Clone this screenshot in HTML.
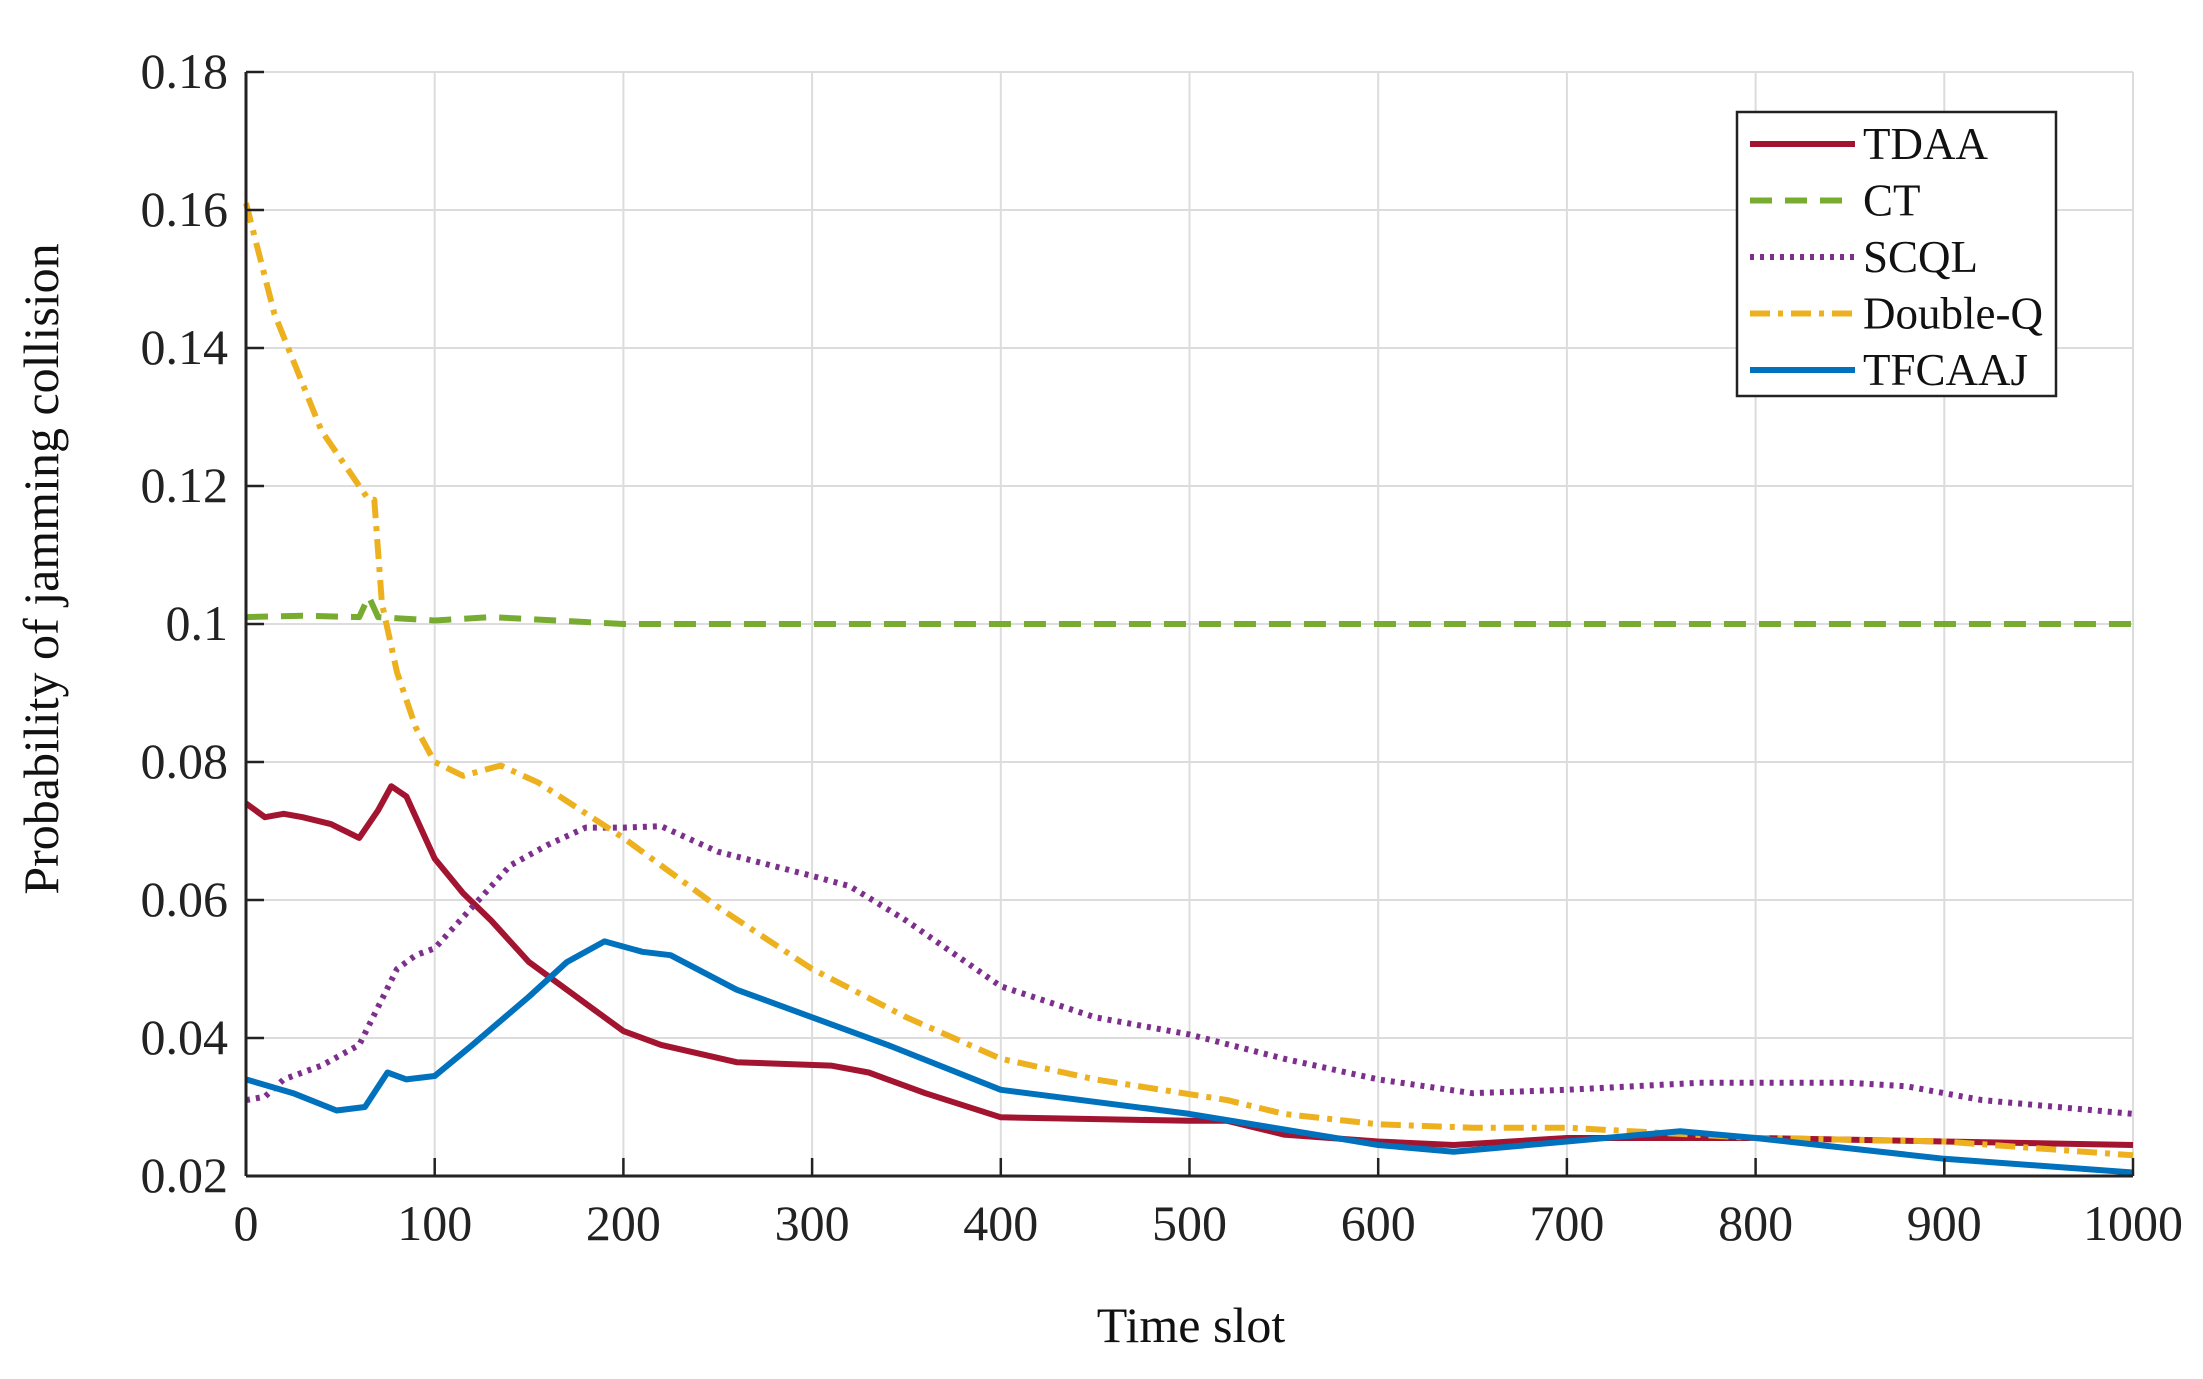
<!DOCTYPE html>
<html><head><meta charset="utf-8"><style>
html,body{margin:0;padding:0;background:#fff;}
svg{display:block;font-family:"Liberation Serif",serif;}
</style></head><body>
<svg id="chart" width="2203" height="1379" viewBox="0 0 2203 1379">
<g id="grid"></g>
<g id="series"></g>
<g id="axes"></g>
<text x="1191" y="1342" font-size="50" text-anchor="middle" fill="#111">Time slot</text>
<text transform="translate(58,569) rotate(-90)" font-size="50" text-anchor="middle" fill="#111">Probability of jamming collision</text>
<g id="legend"></g>
</svg>
<script>
const xTicks=[0,100,200,300,400,500,600,700,800,900,1000];
const yTicks=[0.02,0.04,0.06,0.08,0.1,0.12,0.14,0.16,0.18];
const yTickLabels=["0.02","0.04","0.06","0.08","0.1","0.12","0.14","0.16","0.18"];
const seriesNames=["TDAA","CT","SCQL","Double-Q","TFCAAJ"];
const tdaaX=[0,10,20,30,45,60,70,77,85,100,115,130,150,170,185,200,220,260,310,330,360,400,500,520,550,600,640,700,800,900,1000];
const tdaaY=[0.074,0.072,0.0725,0.072,0.071,0.069,0.073,0.0765,0.075,0.066,0.061,0.057,0.051,0.047,0.044,0.041,0.039,0.0365,0.036,0.035,0.032,0.0285,0.028,0.028,0.026,0.025,0.0245,0.0255,0.0255,0.025,0.0245];
const ctX=[0,30,60,65,70,100,130,200,300,500,700,1000];
const ctY=[0.101,0.1012,0.101,0.104,0.101,0.1005,0.101,0.1,0.1,0.1,0.1,0.1];
const scqlX=[0,10,20,40,60,80,90,100,120,140,160,180,200,220,250,300,320,350,400,450,500,550,600,650,700,770,850,880,920,1000];
const scqlY=[0.031,0.0315,0.034,0.036,0.039,0.05,0.052,0.053,0.059,0.065,0.068,0.0705,0.0705,0.0707,0.067,0.0635,0.062,0.057,0.0475,0.043,0.0405,0.037,0.034,0.032,0.0325,0.0335,0.0335,0.033,0.031,0.029];
const dqX=[0,15,40,65,68,72,80,90,100,115,135,155,200,250,300,350,400,450,520,550,600,650,700,800,900,1000];
const dqY=[0.161,0.145,0.128,0.118,0.118,0.103,0.093,0.085,0.08,0.078,0.0795,0.077,0.069,0.059,0.05,0.043,0.037,0.034,0.031,0.029,0.0275,0.027,0.027,0.0255,0.025,0.023];
const tfX=[0,25,48,63,75,85,100,120,150,170,190,210,225,260,300,340,400,500,600,640,700,760,800,900,1000];
const tfY=[0.034,0.032,0.0295,0.03,0.035,0.034,0.0345,0.039,0.046,0.051,0.054,0.0525,0.052,0.047,0.043,0.039,0.0325,0.029,0.0245,0.0235,0.025,0.0265,0.0255,0.0225,0.0205];

const NS="http://www.w3.org/2000/svg";
const X0=246,X1=2133,Y0=1176,Y1=72;
function sx(v){return X0+(v-0)/(1000)*(X1-X0);}
function sy(v){return Y0-(v-0.02)/(0.16)*(Y0-Y1);}
function mk(tag,attrs,parent){const e=document.createElementNS(NS,tag);for(const k in attrs)e.setAttribute(k,attrs[k]);parent.appendChild(e);return e;}
const grid=document.getElementById('grid'),axes=document.getElementById('axes'),series=document.getElementById('series'),legend=document.getElementById('legend');

xTicks.forEach((t,i)=>{
  const x=sx(t);
  const gl=mk('line',{x1:x,x2:x,y1:Y1,y2:Y0,stroke:'#dcdcdc','stroke-width':2},grid);
  
  
  const tk=mk('line',{x1:x,x2:x,y1:Y0,y2:Y0-18,stroke:'#222','stroke-width':2.5},axes);
  
  
  const lb=mk('text',{x:x,y:Y0+64,'font-size':50,'text-anchor':'middle',fill:'#222'},axes);
  lb.textContent=String(t);
  
  
});
yTicks.forEach((t,i)=>{
  const y=sy(t);
  const gl=mk('line',{x1:X0,x2:X1,y1:y,y2:y,stroke:'#dcdcdc','stroke-width':2},grid);
  
  
  const tk=mk('line',{x1:X0,x2:X0+18,y1:y,y2:y,stroke:'#222','stroke-width':2.5},axes);
  
  
  const lb=mk('text',{x:X0-18,y:y+16,'font-size':50,'text-anchor':'end',fill:'#222'},axes);
  lb.textContent=yTickLabels[i];
  
  
});
const ax1=mk('line',{x1:X0,x2:X0,y1:Y1,y2:Y0,stroke:'#222','stroke-width':3},axes);


const ax2=mk('line',{x1:X0,x2:X1,y1:Y0,y2:Y0,stroke:'#222','stroke-width':3},axes);



const styles=[
 {c:'#A2142F',d:'',n:'tdaa-line'},
 {c:'#77AC30',d:'22 13',n:'ct-line'},
 {c:'#7E2F8E',d:'4 6',n:'scql-line'},
 {c:'#EDB120',d:'20 8 5 8',n:'double-q-line'},
 {c:'#0072BD',d:'',n:'tfcaaj-line'}];
const data=[[tdaaX,tdaaY],[ctX,ctY],[scqlX,scqlY],[dqX,dqY],[tfX,tfY]];
data.forEach((d,i)=>{
  const pts=d[0].map((x,j)=>sx(x).toFixed(1)+','+sy(d[1][j]).toFixed(1)).join(' ');
  const s=styles[i];
  const p=mk('polyline',{points:pts,fill:'none',stroke:s.c,'stroke-width':6,'stroke-linejoin':'round','stroke-dasharray':s.d||'none'},series);
  
  
});

const lbox=mk('rect',{x:1737,y:112,width:319,height:284,fill:'#fff',stroke:'#222','stroke-width':2.5},legend);


seriesNames.forEach((n,i)=>{
  const y=144+i*56.5;
  const s=styles[i];
  const ln=mk('line',{x1:1750,x2:1855,y1:y,y2:y,stroke:s.c,'stroke-width':6,'stroke-dasharray':s.d||'none'},legend);
  
  
  const t=mk('text',{x:1863,y:y+15,'font-size':45,fill:'#111'},legend);
  t.textContent=n;
  
  
});
</script>
</body></html>
